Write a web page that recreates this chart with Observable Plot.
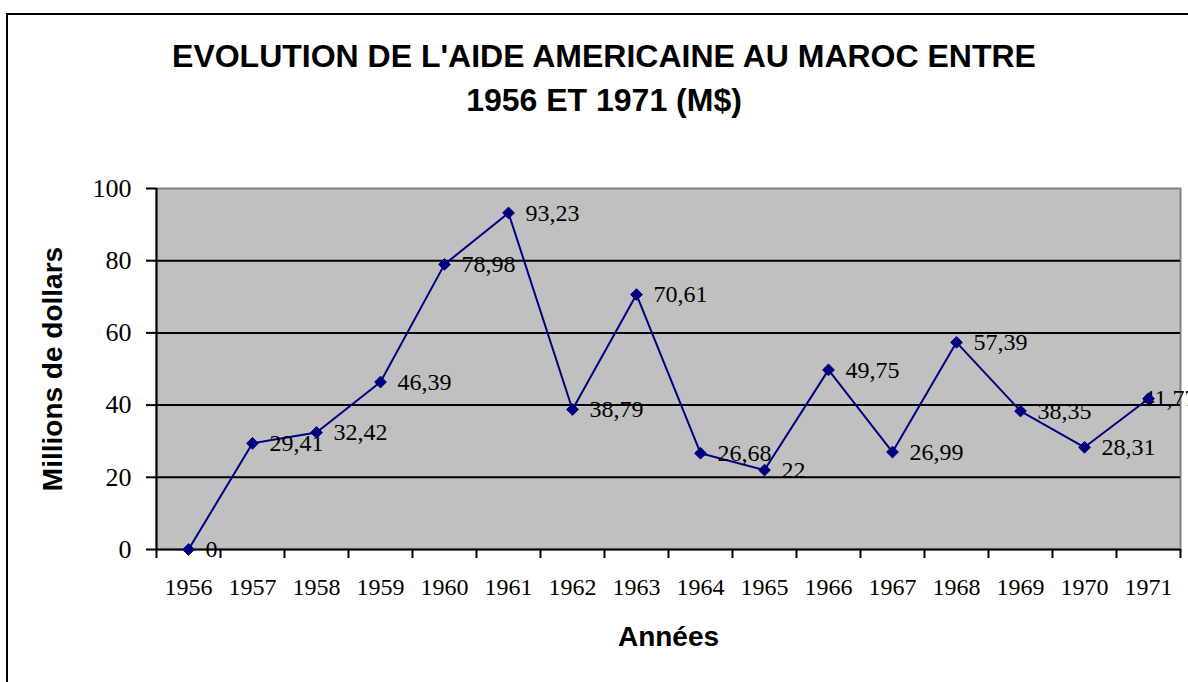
<!DOCTYPE html>
<html>
<head>
<meta charset="utf-8">
<script src="https://cdn.jsdelivr.net/npm/d3@7"></script>
<script src="https://cdn.jsdelivr.net/npm/@observablehq/plot@0.6"></script>
<style>
  html, body { margin: 0; padding: 0; background: #fff; }
  #wrap { position: relative; width: 1188px; height: 682px; overflow: hidden; }
  #wrap svg { position: absolute; left: 0; top: 0; }
  #border { position: absolute; left: 6px; top: 13px; width: 1200px; height: 720px; border: 2px solid #000; box-sizing: border-box; pointer-events: none; }
  #title { position: absolute; left: 0; top: 34px; width: 1208px; text-align: center;
           font: bold 32px "Liberation Sans", Arial, sans-serif; line-height: 44px; color: #000; }
</style>
</head>
<body>
<div id="wrap">
  <div id="title">EVOLUTION DE L'AIDE AMERICAINE AU MAROC ENTRE<br>1956 ET 1971 (M$)</div>
  <div id="chart"></div>
  <div id="border"></div>
</div>
<script>
const years = [1956, 1957, 1958, 1959, 1960, 1961, 1962, 1963, 1964, 1965, 1966, 1967, 1968, 1969, 1970, 1971];
const values = [0, 29.41, 32.42, 46.39, 78.98, 93.23, 38.79, 70.61, 26.68, 22, 49.75, 26.99, 57.39, 38.35, 28.31, 41.77];
const valueLabels = ["0", "29,41", "32,42", "46,39", "78,98", "93,23", "38,79", "70,61", "26,68", "22", "49,75", "26,99", "57,39", "38,35", "28,31", "41,77"];
const yTicks = [0, 20, 40, 60, 80, 100];
const gridValues = [20, 40, 60, 80];
const yTitle = "Millions de dollars";
const xTitle = "Années";

const data = years.map((year, i) => ({ year, value: values[i], label: valueLabels[i] }));
// category boundaries (Excel places tick marks between categories)
const boundaries = years.map(y => y - 0.5).concat([years[years.length - 1] + 0.5]);
const navy = "#000080";
const serif = "'Liberation Serif', 'Times New Roman', serif";
const sans = "'Liberation Sans', Arial, sans-serif";

const chart = Plot.plot({
  width: 1188,
  height: 682,
  marginLeft: 156,
  marginRight: 8,
  marginTop: 188,
  marginBottom: 133,
  x: { type: "linear", domain: [boundaries[0], boundaries[boundaries.length - 1]] },
  y: { domain: [0, 100] },
  style: { background: "transparent", fontFamily: serif, color: "#000", overflow: "visible" },
  marks: [
    Plot.frame({ fill: "#c0c0c0", stroke: "#808080", strokeWidth: 2 }),
    Plot.ruleY(gridValues, { stroke: "#000", strokeWidth: 2 }),
    Plot.ruleY([0], { stroke: "#000", strokeWidth: 2 }),
    Plot.ruleX([boundaries[0]], { stroke: "#000", strokeWidth: 2 }),
    Plot.axisY({ ticks: yTicks, tickSize: 10, tickPadding: 15, tickFormat: d => String(d), fontSize: 26, strokeWidth: 2, label: null, fontFamily: serif }),
    Plot.axisX({ ticks: boundaries, tickSize: 9, tickFormat: () => "", strokeWidth: 2, label: null }),
    Plot.axisX({ ticks: years, tickSize: 0, tickPadding: 28, tickFormat: d => String(d), fontSize: 24, label: null, fontFamily: serif }),
    Plot.line(data, { x: "year", y: "value", stroke: navy, strokeWidth: 2 }),
    Plot.text(data.slice(0, -1), { x: "year", y: "value", text: "label", dx: 17, textAnchor: "start", lineAnchor: "middle", fontSize: 24, fontFamily: serif, fill: "#000" }),
    Plot.text(data.slice(-1), { x: "year", y: "value", text: "label", dx: -6, textAnchor: "start", lineAnchor: "middle", fontSize: 24, fontFamily: serif, fill: "#000" }),
    Plot.dot(data, { x: "year", y: "value", symbol: "diamond2", r: 5.3, fill: navy, stroke: navy, strokeWidth: 1 }),
    Plot.text([yTitle], { frameAnchor: "left", rotate: -90, dx: -103, textAnchor: "middle", lineAnchor: "middle", fontSize: 28, fontWeight: "bold", fontFamily: sans, fill: "#000" }),
    Plot.text([xTitle], { frameAnchor: "bottom", dy: 88, textAnchor: "middle", lineAnchor: "middle", fontSize: 28, fontWeight: "bold", fontFamily: sans, fill: "#000" })
  ]
});
document.getElementById("chart").appendChild(chart);
</script>
</body>
</html>
